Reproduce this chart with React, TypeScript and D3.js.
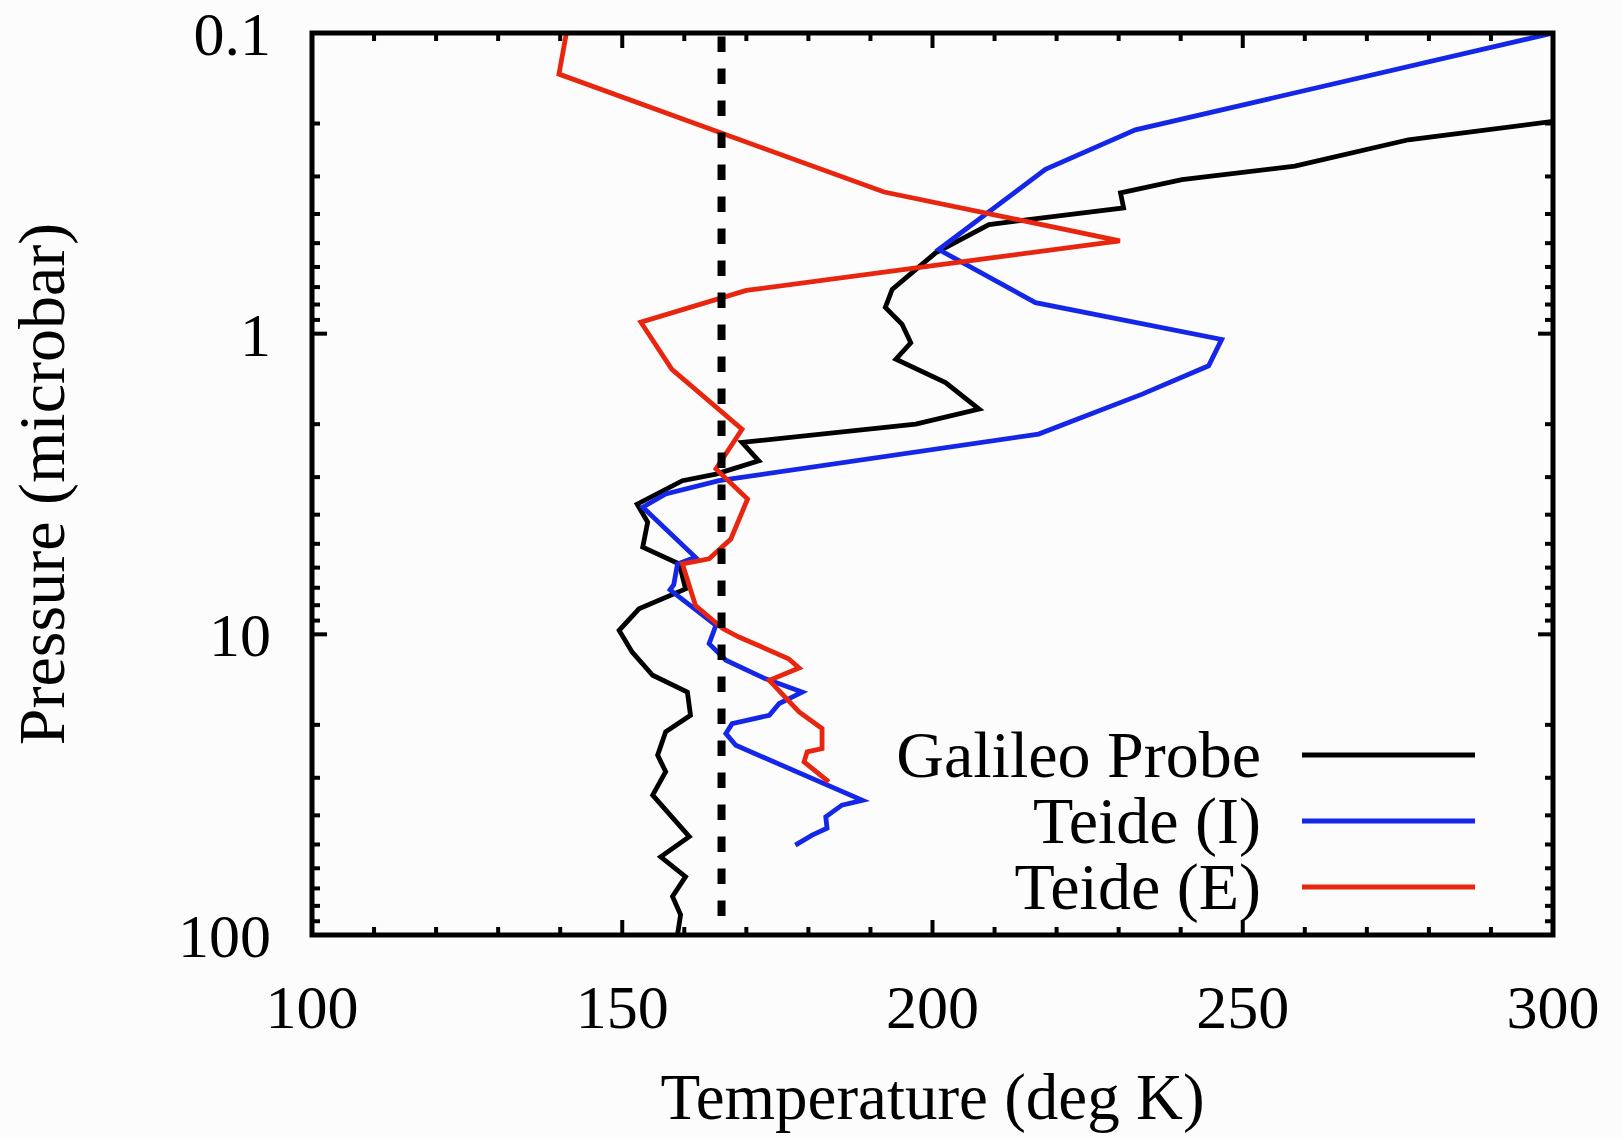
import React from "react";
import * as d3 from "d3";

// ---- data (Temperature in K, Pressure in microbar) ----
const galileoT = [300, 276.7, 258.4, 240.2, 230.3, 230.8, 209.1, 200.5, 193.5, 192.4, 195.1, 196.5, 194.1, 202.1, 207.5, 197.3, 169.3, 172.0, 165.1, 159.7, 152.4, 154.1, 153.3, 159.2, 160.2, 152.7, 149.5, 151.6, 154.9, 160.5, 161.0, 157.0, 155.7, 157.0, 154.9, 160.8, 156.2, 160.2, 158.1, 159.4, 158.9];
const galileoP = [0.1968, 0.2265, 0.2773, 0.3076, 0.3404, 0.3819, 0.4335, 0.5383, 0.7129, 0.8185, 0.9311, 1.072, 1.216, 1.455, 1.782, 2.0, 2.301, 2.649, 2.931, 3.083, 3.69, 4.236, 5.129, 5.834, 7.063, 8.222, 9.705, 11.46, 13.68, 15.56, 18.58, 21.09, 25.23, 28.64, 34.28, 47.1, 54.95, 63.97, 74.47, 85.7, 100];

const teideIT = [300, 232.7, 218.2, 201.0, 216.6, 246.6, 244.5, 233.8, 217.1, 165.6, 157.0, 153.3, 161.8, 158.9, 158.3, 157.7, 165.1, 164.0, 166.7, 173.1, 179.0, 176.9, 175.3, 173.7, 167.7, 166.7, 168.3, 188.7, 185.4, 182.8, 183.0, 180.6, 177.9];
const teideIP = [0.1, 0.21, 0.284, 0.525, 0.789, 1.045, 1.279, 1.589, 2.158, 3.083, 3.412, 3.776, 5.546, 5.834, 6.839, 7.112, 9.333, 10.74, 12.19, 14.06, 15.56, 16.37, 16.98, 18.58, 19.82, 21.38, 23.39, 35.65, 36.98, 40.46, 44.16, 46.56, 50.23];

const teideET = [141.0, 139.8, 192.2, 230.2, 170.0, 153.0, 158.0, 169.3, 165.1, 170.2, 167.5, 164.0, 159.7, 161.8, 166.2, 168.8, 176.8, 178.5, 173.7, 178.5, 182.2, 182.2, 179.8, 179.3, 183.3];
const teideEP = [0.1, 0.137, 0.338, 0.491, 0.718, 0.916, 1.315, 2.08, 2.818, 3.548, 4.819, 5.61, 5.834, 8.017, 9.572, 10.21, 12.05, 12.94, 14.22, 18.11, 20.56, 23.99, 24.6, 26.55, 30.97];

const referenceT = 166;

const xTicks = [100, 150, 200, 250, 300];
const yTicks = [0.1, 1, 10, 100];
const yTickLabels = ["0.1", "1", "10", "100"];

const seriesNames = ["Galileo Probe", "Teide (I)", "Teide (E)"];
const seriesColors = ["#000000", "#1426e8", "#e8250e"];

const W = 1623;
const H = 1137;
const L = 312, R = 1553, T = 33, B = 935;
const FONT = "'Liberation Serif', 'Times New Roman', serif";

export default function App() {
  const x = d3.scaleLinear().domain([100, 300]).range([L, R]);
  const y = d3.scaleLog().domain([0.1, 100]).range([T, B]);

  const series = [
    galileoT.map((t, i) => [t, galileoP[i]]),
    teideIT.map((t, i) => [t, teideIP[i]]),
    teideET.map((t, i) => [t, teideEP[i]]),
  ];
  const line = d3.line<number[]>().x((d) => x(d[0])).y((d) => y(d[1]));

  const xMinor = d3.range(100, 301, 10).filter((v) => v % 50 !== 0);
  const yMinor: number[] = [];
  [0.1, 1, 10].forEach((dec) => {
    for (let k = 2; k <= 9; k++) yMinor.push(dec * k);
  });

  const majLen = 15, minLen = 8;

  return (
    <svg width={W} height={H} style={{ position: "absolute", left: 0, top: 0, background: "#fcfcfc" }}>
      <rect x={0} y={0} width={W} height={H} fill="#fcfcfc" />
      <defs>
        <clipPath id="plotclip">
          <rect x={L} y={T} width={R - L} height={B - T} />
        </clipPath>
      </defs>

      <g clipPath="url(#plotclip)" fill="none" strokeLinejoin="miter" strokeLinecap="butt">
        {series.map((s, i) => (
          <path key={i} d={line(s) || ""} stroke={seriesColors[i]} strokeWidth={4.8} />
        ))}
        <line
          x1={x(referenceT)}
          x2={x(referenceT)}
          y1={y(0.1) + 3.5}
          y2={y(100) - 18}
          stroke="#000"
          strokeWidth={8}
          strokeDasharray="15.5,16.5"
        />
      </g>

      {/* ticks */}
      <g stroke="#000" strokeWidth={4}>
        {xTicks.map((v) => (
          <g key={"xt" + v}>
            <line x1={x(v)} x2={x(v)} y1={B} y2={B - majLen} />
            <line x1={x(v)} x2={x(v)} y1={T} y2={T + majLen} />
          </g>
        ))}
        {xMinor.map((v) => (
          <g key={"xm" + v}>
            <line x1={x(v)} x2={x(v)} y1={B} y2={B - minLen} />
            <line x1={x(v)} x2={x(v)} y1={T} y2={T + minLen} />
          </g>
        ))}
        {yTicks.map((v) => (
          <g key={"yt" + v}>
            <line x1={L} x2={L + majLen} y1={y(v)} y2={y(v)} />
            <line x1={R} x2={R - majLen} y1={y(v)} y2={y(v)} />
          </g>
        ))}
        {yMinor.map((v) => (
          <g key={"ym" + v}>
            <line x1={L} x2={L + minLen} y1={y(v)} y2={y(v)} />
            <line x1={R} x2={R - minLen} y1={y(v)} y2={y(v)} />
          </g>
        ))}
      </g>

      {/* frame */}
      <rect x={L} y={T} width={R - L} height={B - T} fill="none" stroke="#000" strokeWidth={5} />

      {/* tick labels */}
      <g fontFamily={FONT} fontSize={62} fill="#000">
        {xTicks.map((v) => (
          <text key={"xl" + v} x={x(v)} y={1028} textAnchor="middle">{v}</text>
        ))}
        {yTicks.map((v, i) => (
          <text key={"yl" + v} x={271} y={y(v) + 22} textAnchor="end">{yTickLabels[i]}</text>
        ))}
      </g>

      {/* axis titles */}
      <text x={(L + R) / 2} y={1119} textAnchor="middle" fontFamily={FONT} fontSize={65} fill="#000">
        Temperature (deg K)
      </text>
      <text
        transform={`translate(64, ${(T + B) / 2}) rotate(-90)`}
        textAnchor="middle"
        fontFamily={FONT}
        fontSize={66}
        fill="#000"
      >
        Pressure (microbar)
      </text>

      {/* legend */}
      <g fontFamily={FONT} fontSize={66} fill="#000">
        {seriesNames.map((name, i) => {
          const ly = 755 + i * 66;
          return (
            <g key={name}>
              <text x={1261} y={ly + 22} textAnchor="end">{name}</text>
              <line x1={1302} x2={1475} y1={ly} y2={ly} stroke={seriesColors[i]} strokeWidth={5} />
            </g>
          );
        })}
      </g>
    </svg>
  );
}
